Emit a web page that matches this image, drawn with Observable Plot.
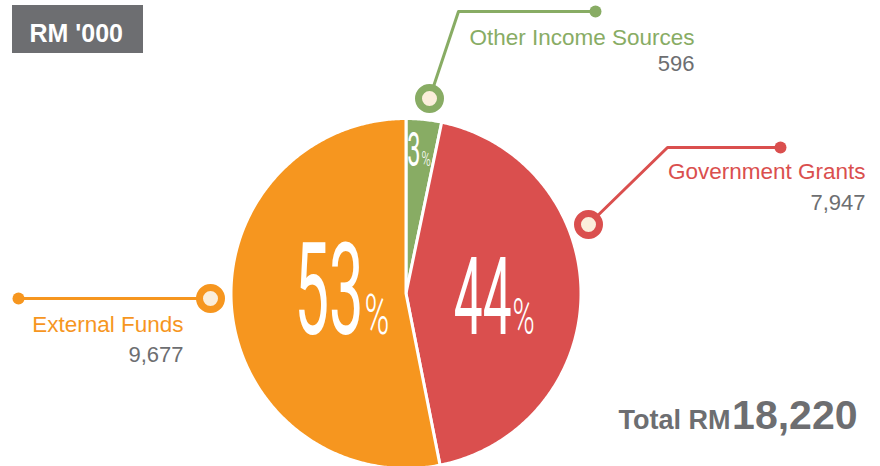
<!DOCTYPE html>
<html><head><meta charset="utf-8">
<script src="https://cdn.jsdelivr.net/npm/d3@7"></script>
<script src="https://cdn.jsdelivr.net/npm/@observablehq/plot@0.6"></script>
<style>html,body{margin:0;padding:0;background:#fff}svg{display:block;overflow:visible}</style>
</head><body><div id="chart"></div>
<script>
// ---- data ----
const categories = ["Other Income Sources", "Government Grants", "External Funds"];
const values = [596, 7947, 9677];
const valueLabels = ["596", "7,947", "9,677"];
const pctLabels = ["3", "44", "53"];
const colors = ["#88ac64", "#da4f4e", "#f6961f"];
const unitLabel = "RM '000";
const totalPrefix = "Total RM";
const totalLabel = "18,220";

// ---- layout (pixels) ----
const W = 880, H = 466, CX = 405.5, CY = 293, R = 175;
const GRAY = "#6d6e71", CREAM = "#fbeedb";
const layout = [
  {marker: [429, 98], elbow: [458, 11], end: [595, 11], textX: 694, nameY: 44, valueY: 70,
   pctX: 420, pctY: 165, pctSize: 49, signSize: 21},
  {marker: [588, 224], elbow: [667, 147], end: [780, 147], textX: 865, nameY: 178, valueY: 209,
   pctX: 511, pctY: 333, pctSize: 107, signSize: 50},
  {marker: [210, 298], elbow: [210, 298], end: [18, 298], textX: 183, nameY: 331, valueY: 361,
   pctX: 363, pctY: 333, pctSize: 128, signSize: 56}
];
const box = {x1: 12, x2: 143, y1: 5, y2: 53, tx: 29, ty: 41};

// ---- derived ----
const arcs = d3.pie().sort(null).startAngle(0).endAngle(2 * Math.PI)(values);
const slices = arcs.flatMap((a, i) => {
  const cat = categories[i];
  const n = Math.max(2, Math.ceil((a.endAngle - a.startAngle) / 0.01));
  const pts = [{cat, x: CX, y: CY}];
  for (let k = 0; k <= n; k++) {
    const t = a.startAngle + (a.endAngle - a.startAngle) * k / n;
    pts.push({cat, x: CX + R * Math.sin(t), y: CY - R * Math.cos(t)});
  }
  return pts;
});
const ann = categories.map((cat, i) => ({cat, name: cat, value: valueLabels[i], pct: pctLabels[i], ...layout[i]}));
const leaders = ann.flatMap(d => [d.marker, d.elbow, d.end].map(p => ({cat: d.cat, x: p[0], y: p[1]})));

const chart = Plot.plot({
  width: W, height: H,
  margin: 0,
  x: {type: "identity", axis: null},
  y: {type: "identity", axis: null},
  color: {domain: categories, range: colors},
  style: {fontFamily: "Liberation Sans, Arial, sans-serif", background: "#fff"},
  marks: [
    Plot.rect([box], {x1: "x1", x2: "x2", y1: "y1", y2: "y2", fill: GRAY}),
    Plot.text([box], {x: "tx", y: "ty", text: () => unitLabel, fill: "white", fontSize: 25, fontWeight: "bold", textAnchor: "start", lineAnchor: "bottom"}),
    Plot.line(slices, {x: "x", y: "y", z: "cat", fill: "cat", stroke: "white", strokeWidth: 3, strokeLinejoin: "round", curve: "linear-closed"}),
    Plot.line(leaders, {x: "x", y: "y", z: "cat", stroke: "cat", strokeWidth: 3}),
    Plot.dot(ann, {x: d => d.end[0], y: d => d.end[1], r: 6, fill: "cat"}),
    Plot.dot(ann, {x: d => d.marker[0], y: d => d.marker[1], r: 11, stroke: "cat", strokeWidth: 7, fill: CREAM}),
    Plot.text(ann, {x: "textX", y: "nameY", text: "name", fill: "cat", fontSize: 22.5, textAnchor: "end", lineAnchor: "bottom"}),
    Plot.text(ann, {x: "textX", y: "valueY", text: "value", fill: GRAY, fontSize: 22, textAnchor: "end", lineAnchor: "bottom"}),
    Plot.text(ann, {x: "pctX", y: "pctY", text: "pct", fill: "white", fontSize: d => d.pctSize, fontFamily: "Roboto", fontWeight: 400, textAnchor: "end", lineAnchor: "bottom", ariaDescription: "pct-digits"}),
    Plot.text(ann, {x: d => d.pctX + 1, y: "pctY", text: () => "%", fill: "white", fontSize: d => d.signSize, fontFamily: "Roboto", fontWeight: 300, textAnchor: "start", lineAnchor: "bottom", ariaDescription: "pct-sign"}),
    Plot.text([0], {x: () => 730, y: () => 428, text: () => totalPrefix, fill: GRAY, fontSize: 27, fontWeight: "bold", textAnchor: "end", lineAnchor: "bottom"}),
    Plot.text([0], {x: () => 857, y: () => 428, text: () => totalLabel, fill: GRAY, fontSize: 41, fontWeight: "bold", textAnchor: "end", lineAnchor: "bottom"})
  ]
});

function squeeze(svg, label, s) {
  svg.querySelectorAll(`g[aria-description="${label}"] text`).forEach(t => {
    let tr = t.getAttribute("transform");
    if (!tr) {
      const x = t.getAttribute("x") || 0, y = t.getAttribute("y") || 0;
      t.removeAttribute("x"); t.removeAttribute("y");
      tr = `translate(${x},${y})`;
    }
    t.setAttribute("transform", tr + ` scale(${s},1)`);
  });
}
squeeze(chart, "pct-digits", 0.48);
squeeze(chart, "pct-sign", 0.6);
document.getElementById("chart").appendChild(chart);
</script>
</body></html>
